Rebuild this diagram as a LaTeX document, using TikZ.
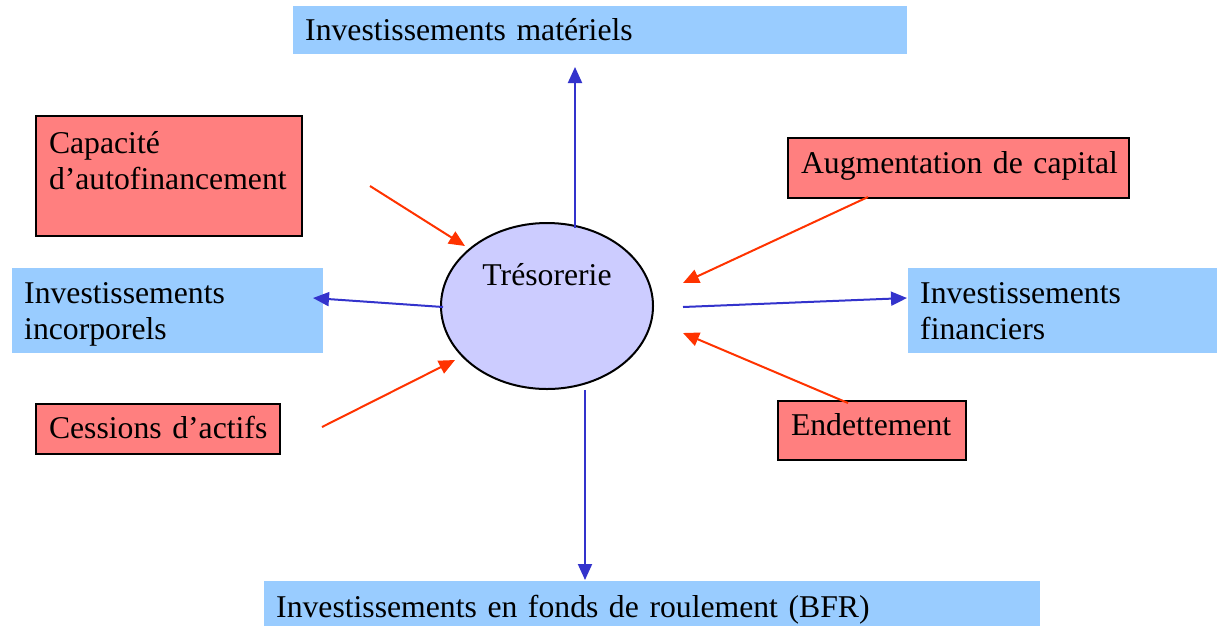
\documentclass[tikz,border=0pt]{standalone}
\usepackage{fontspec}
\setmainfont{Liberation Serif}
\usetikzlibrary{arrows.meta,shapes.geometric}
\definecolor{boxblue}{HTML}{99CCFF}
\definecolor{boxred}{HTML}{FF7F7F}
\definecolor{ellfill}{HTML}{CCCCFF}
\definecolor{outblue}{HTML}{3333CC}
\definecolor{inred}{HTML}{FF3300}
\newcommand\diagfont{\fontsize{31.7}{36}\selectfont\spaceskip 0.2em\relax}
\begin{document}
\begin{tikzpicture}[x=1pt,y=-1pt,
  every node/.style={font=\diagfont},
  bluebox/.style={fill=boxblue, anchor=north west, inner ysep=0pt, inner xsep=12pt,
    align=left, text height=22pt},
  redbox/.style={fill=boxred, draw=black, line width=2pt, anchor=north west,
    inner ysep=0pt, inner xsep=13pt, align=left, text height=22pt},
  outflow/.style={draw=outblue, line width=2pt, -{Triangle[length=16pt,width=14pt]}},
  inflow/.style={draw=inred, line width=2pt, -{Triangle[length=16pt,width=14pt]}}]

\useasboundingbox (0,0) rectangle (1217,625);

% uses of cash (blue)
\node[bluebox, minimum width=614pt, minimum height=48pt, text width=590pt, text depth=2pt]
  (mat) at (293,6) {\mbox{Investissements matériels}};
\node[bluebox, minimum width=311pt, minimum height=85pt, text width=287pt, text depth=37pt]
  (inc) at (12,268) {\mbox{Investissements}\\\mbox{incorporels}};
\node[bluebox, minimum width=320pt, minimum height=85pt, text width=296pt, text depth=37pt]
  (fin) at (908,268) {\mbox{Investissements}\\\mbox{financiers}};
\node[bluebox, minimum width=776pt, minimum height=60pt, text width=752pt, text depth=10pt]
  (bfr) at (264,581) {\mbox{Investissements en fonds de roulement (BFR)}};

% sources of cash (red)
\node[redbox, minimum width=266pt, minimum height=120pt, text width=240pt, text depth=68pt]
  (caf) at (35,115) {\mbox{Capacité}\\\mbox{d’autofinancement}};
\node[redbox, minimum width=341pt, minimum height=60pt, text width=315pt, text depth=12pt]
  (cap) at (787,137) {\mbox{Augmentation de capital}};
\node[redbox, minimum width=244pt, minimum height=50pt, text width=218pt, text depth=4pt]
  (ces) at (35,403) {\mbox{Cessions d’actifs}};
\node[redbox, minimum width=188pt, minimum height=59pt, text width=162pt, text depth=13pt]
  (det) at (777,400) {\mbox{Endettement}};

% cash position
\node[ellipse, draw=black, line width=2pt, fill=ellfill, minimum width=212pt,
  minimum height=166pt, inner sep=0pt, text height=22pt, text depth=64pt]
  (tres) at (547,306) {Trésorerie};

% arrow end points
\coordinate (upS) at (575,228);   \coordinate (upE) at (575,67);
\coordinate (lfS) at (443,307);   \coordinate (lfE) at (313,298);
\coordinate (rtS) at (683,307);   \coordinate (rtE) at (907,298);
\coordinate (dnS) at (585,390);   \coordinate (dnE) at (585,580);
\coordinate (cafS) at (370,186);  \coordinate (cafE) at (465,246);
\coordinate (capS) at (868,197);  \coordinate (capE) at (683,283);
\coordinate (cesS) at (322,427);  \coordinate (cesE) at (455,360);
\coordinate (detS) at (848,403);  \coordinate (detE) at (683,333);

\draw[outflow] (upS) -- (upE);
\draw[outflow] (lfS) -- (lfE);
\draw[outflow] (rtS) -- (rtE);
\draw[outflow] (dnS) -- (dnE);

\draw[inflow] (cafS) -- (cafE);
\draw[inflow] (capS) -- (capE);
\draw[inflow] (cesS) -- (cesE);
\draw[inflow] (detS) -- (detE);
\end{tikzpicture}
\end{document}
